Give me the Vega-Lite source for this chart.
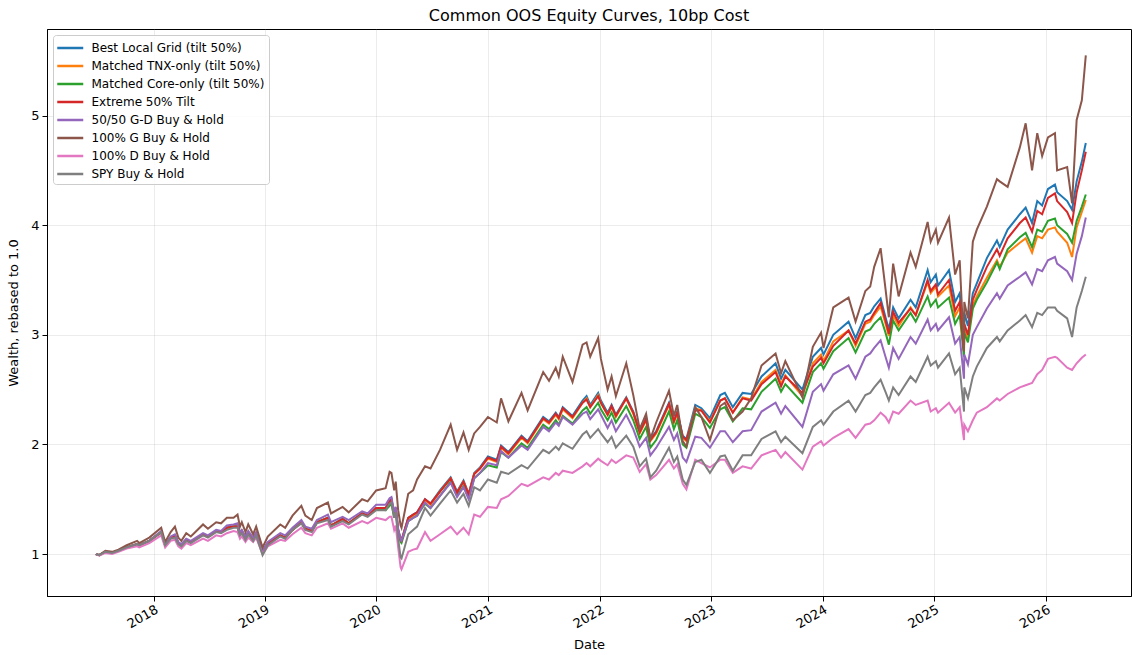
{
"$schema": "https://vega.github.io/schema/vega-lite/v6.json",
"width": 1084, "height": 567,
"autosize": "none",
"padding": {"left": 47, "top": 29, "right": 1, "bottom": 59},
"background": "white",
"title": {"text": "Common OOS Equity Curves, 10bp Cost", "fontSize": 16, "font": "DejaVu Sans", "fontWeight": "normal", "offset": 5, "color": "#000"},
"config": {"view": {"stroke": "#000", "strokeWidth": 1}, "font": "DejaVu Sans"},
"data": {"values": [
{"d":"2017-06-26","B":1.00,"T":1.00,"C":1.00,"E":1.00,"P":1.00,"G":1.00,"D":1.00,"S":1.00},
{"d":"2017-07-07","B":0.99,"T":0.99,"C":0.99,"E":0.99,"P":0.99,"G":0.99,"D":0.985,"S":0.99},
{"d":"2017-07-27","B":1.02,"T":1.02,"C":1.02,"E":1.02,"P":1.02,"G":1.03,"D":1.01,"S":1.02},
{"d":"2017-08-18","B":1.01,"T":1.01,"C":1.01,"E":1.01,"P":1.01,"G":1.02,"D":1.00,"S":1.01},
{"d":"2017-09-08","B":1.03,"T":1.03,"C":1.03,"E":1.03,"P":1.03,"G":1.04,"D":1.02,"S":1.03},
{"d":"2017-10-05","B":1.06,"T":1.06,"C":1.06,"E":1.06,"P":1.06,"G":1.08,"D":1.05,"S":1.06},
{"d":"2017-11-08","B":1.09,"T":1.09,"C":1.09,"E":1.09,"P":1.09,"G":1.12,"D":1.07,"S":1.09},
{"d":"2017-11-15","B":1.08,"T":1.08,"C":1.08,"E":1.08,"P":1.08,"G":1.10,"D":1.06,"S":1.08},
{"d":"2017-12-18","B":1.12,"T":1.12,"C":1.12,"E":1.12,"P":1.12,"G":1.15,"D":1.10,"S":1.12},
{"d":"2018-01-26","B":1.20,"T":1.20,"C":1.20,"E":1.20,"P":1.21,"G":1.24,"D":1.17,"S":1.20},
{"d":"2018-02-08","B":1.08,"T":1.08,"C":1.08,"E":1.08,"P":1.09,"G":1.11,"D":1.06,"S":1.08},
{"d":"2018-02-26","B":1.15,"T":1.15,"C":1.15,"E":1.15,"P":1.16,"G":1.20,"D":1.12,"S":1.14},
{"d":"2018-03-12","B":1.17,"T":1.17,"C":1.17,"E":1.17,"P":1.18,"G":1.25,"D":1.13,"S":1.15},
{"d":"2018-03-23","B":1.10,"T":1.10,"C":1.10,"E":1.10,"P":1.11,"G":1.15,"D":1.07,"S":1.09},
{"d":"2018-04-02","B":1.08,"T":1.08,"C":1.08,"E":1.08,"P":1.09,"G":1.12,"D":1.05,"S":1.07},
{"d":"2018-04-18","B":1.13,"T":1.13,"C":1.13,"E":1.13,"P":1.14,"G":1.19,"D":1.10,"S":1.12},
{"d":"2018-05-03","B":1.11,"T":1.11,"C":1.11,"E":1.11,"P":1.12,"G":1.16,"D":1.08,"S":1.10},
{"d":"2018-06-12","B":1.18,"T":1.18,"C":1.18,"E":1.18,"P":1.19,"G":1.27,"D":1.14,"S":1.17},
{"d":"2018-06-28","B":1.16,"T":1.16,"C":1.16,"E":1.16,"P":1.17,"G":1.23,"D":1.12,"S":1.15},
{"d":"2018-07-25","B":1.21,"T":1.21,"C":1.21,"E":1.21,"P":1.22,"G":1.29,"D":1.17,"S":1.20},
{"d":"2018-08-10","B":1.20,"T":1.20,"C":1.20,"E":1.20,"P":1.21,"G":1.28,"D":1.16,"S":1.19},
{"d":"2018-08-29","B":1.24,"T":1.24,"C":1.24,"E":1.24,"P":1.26,"G":1.33,"D":1.19,"S":1.22},
{"d":"2018-09-20","B":1.25,"T":1.25,"C":1.25,"E":1.25,"P":1.27,"G":1.33,"D":1.21,"S":1.24},
{"d":"2018-10-03","B":1.25,"T":1.25,"C":1.25,"E":1.25,"P":1.28,"G":1.36,"D":1.20,"S":1.24},
{"d":"2018-10-11","B":1.18,"T":1.18,"C":1.18,"E":1.18,"P":1.20,"G":1.25,"D":1.14,"S":1.17},
{"d":"2018-10-17","B":1.21,"T":1.21,"C":1.21,"E":1.21,"P":1.22,"G":1.29,"D":1.16,"S":1.19},
{"d":"2018-10-29","B":1.14,"T":1.14,"C":1.14,"E":1.14,"P":1.16,"G":1.20,"D":1.11,"S":1.13},
{"d":"2018-11-07","B":1.19,"T":1.19,"C":1.19,"E":1.19,"P":1.21,"G":1.27,"D":1.15,"S":1.18},
{"d":"2018-11-23","B":1.13,"T":1.13,"C":1.13,"E":1.13,"P":1.15,"G":1.18,"D":1.11,"S":1.12},
{"d":"2018-12-03","B":1.18,"T":1.18,"C":1.18,"E":1.18,"P":1.20,"G":1.25,"D":1.15,"S":1.17},
{"d":"2018-12-24","B":1.02,"T":1.02,"C":1.02,"E":1.02,"P":1.03,"G":1.06,"D":1.00,"S":0.99},
{"d":"2019-01-10","B":1.10,"T":1.10,"C":1.10,"E":1.10,"P":1.11,"G":1.16,"D":1.07,"S":1.08},
{"d":"2019-02-20","B":1.17,"T":1.17,"C":1.17,"E":1.17,"P":1.19,"G":1.27,"D":1.13,"S":1.16},
{"d":"2019-03-08","B":1.15,"T":1.15,"C":1.15,"E":1.15,"P":1.17,"G":1.24,"D":1.12,"S":1.14},
{"d":"2019-04-01","B":1.22,"T":1.22,"C":1.22,"E":1.22,"P":1.24,"G":1.35,"D":1.18,"S":1.22},
{"d":"2019-04-30","B":1.29,"T":1.29,"C":1.29,"E":1.29,"P":1.31,"G":1.44,"D":1.24,"S":1.28},
{"d":"2019-05-13","B":1.23,"T":1.23,"C":1.23,"E":1.23,"P":1.25,"G":1.35,"D":1.19,"S":1.22},
{"d":"2019-06-03","B":1.21,"T":1.21,"C":1.21,"E":1.21,"P":1.23,"G":1.31,"D":1.17,"S":1.20},
{"d":"2019-06-20","B":1.29,"T":1.29,"C":1.29,"E":1.29,"P":1.31,"G":1.42,"D":1.24,"S":1.28},
{"d":"2019-07-26","B":1.33,"T":1.33,"C":1.33,"E":1.33,"P":1.36,"G":1.47,"D":1.28,"S":1.31},
{"d":"2019-08-05","B":1.26,"T":1.26,"C":1.26,"E":1.26,"P":1.29,"G":1.37,"D":1.23,"S":1.25},
{"d":"2019-09-12","B":1.32,"T":1.32,"C":1.32,"E":1.32,"P":1.34,"G":1.43,"D":1.28,"S":1.30},
{"d":"2019-10-02","B":1.28,"T":1.28,"C":1.28,"E":1.28,"P":1.31,"G":1.38,"D":1.24,"S":1.27},
{"d":"2019-11-15","B":1.37,"T":1.37,"C":1.37,"E":1.37,"P":1.39,"G":1.50,"D":1.30,"S":1.36},
{"d":"2019-12-03","B":1.35,"T":1.35,"C":1.35,"E":1.35,"P":1.37,"G":1.48,"D":1.28,"S":1.34},
{"d":"2019-12-31","B":1.42,"T":1.42,"C":1.41,"E":1.42,"P":1.45,"G":1.58,"D":1.33,"S":1.40},
{"d":"2020-01-31","B":1.42,"T":1.42,"C":1.40,"E":1.42,"P":1.45,"G":1.60,"D":1.31,"S":1.40},
{"d":"2020-02-13","B":1.48,"T":1.47,"C":1.44,"E":1.48,"P":1.51,"G":1.75,"D":1.34,"S":1.46},
{"d":"2020-02-19","B":1.50,"T":1.49,"C":1.46,"E":1.50,"P":1.52,"G":1.74,"D":1.34,"S":1.47},
{"d":"2020-02-28","B":1.36,"T":1.35,"C":1.33,"E":1.36,"P":1.38,"G":1.58,"D":1.22,"S":1.33},
{"d":"2020-03-04","B":1.42,"T":1.41,"C":1.39,"E":1.42,"P":1.43,"G":1.66,"D":1.26,"S":1.38},
{"d":"2020-03-12","B":1.22,"T":1.21,"C":1.19,"E":1.22,"P":1.23,"G":1.40,"D":1.06,"S":1.14},
{"d":"2020-03-20","B":1.14,"T":1.13,"C":1.11,"E":1.13,"P":1.13,"G":1.26,"D":0.88,"S":0.97},
{"d":"2020-03-23","B":1.13,"T":1.12,"C":1.10,"E":1.12,"P":1.12,"G":1.24,"D":0.86,"S":0.96},
{"d":"2020-04-14","B":1.33,"T":1.32,"C":1.30,"E":1.33,"P":1.30,"G":1.55,"D":1.02,"S":1.18},
{"d":"2020-04-30","B":1.36,"T":1.35,"C":1.33,"E":1.36,"P":1.33,"G":1.58,"D":1.04,"S":1.22},
{"d":"2020-05-13","B":1.38,"T":1.37,"C":1.35,"E":1.38,"P":1.35,"G":1.68,"D":1.05,"S":1.25},
{"d":"2020-06-08","B":1.50,"T":1.49,"C":1.46,"E":1.50,"P":1.47,"G":1.80,"D":1.20,"S":1.42},
{"d":"2020-06-26","B":1.46,"T":1.45,"C":1.42,"E":1.46,"P":1.42,"G":1.78,"D":1.12,"S":1.35},
{"d":"2020-07-27","B":1.58,"T":1.57,"C":1.53,"E":1.57,"P":1.53,"G":1.95,"D":1.18,"S":1.46},
{"d":"2020-08-31","B":1.70,"T":1.69,"C":1.66,"E":1.69,"P":1.65,"G":2.18,"D":1.25,"S":1.58},
{"d":"2020-09-21","B":1.57,"T":1.56,"C":1.53,"E":1.56,"P":1.52,"G":1.95,"D":1.18,"S":1.47},
{"d":"2020-10-12","B":1.67,"T":1.66,"C":1.62,"E":1.66,"P":1.61,"G":2.11,"D":1.24,"S":1.55},
{"d":"2020-10-29","B":1.55,"T":1.54,"C":1.51,"E":1.54,"P":1.50,"G":1.95,"D":1.18,"S":1.44},
{"d":"2020-11-16","B":1.74,"T":1.73,"C":1.69,"E":1.73,"P":1.69,"G":2.10,"D":1.36,"S":1.61},
{"d":"2020-12-05","B":1.79,"T":1.78,"C":1.74,"E":1.78,"P":1.74,"G":2.16,"D":1.34,"S":1.58},
{"d":"2020-12-31","B":1.89,"T":1.87,"C":1.81,"E":1.88,"P":1.83,"G":2.25,"D":1.43,"S":1.68},
{"d":"2021-01-29","B":1.86,"T":1.84,"C":1.79,"E":1.85,"P":1.81,"G":2.20,"D":1.42,"S":1.65},
{"d":"2021-02-12","B":1.99,"T":1.97,"C":1.93,"E":1.98,"P":1.94,"G":2.42,"D":1.50,"S":1.75},
{"d":"2021-03-08","B":1.93,"T":1.91,"C":1.88,"E":1.92,"P":1.88,"G":2.21,"D":1.53,"S":1.73},
{"d":"2021-04-20","B":2.08,"T":2.06,"C":2.01,"E":2.07,"P":1.99,"G":2.47,"D":1.64,"S":1.81},
{"d":"2021-05-10","B":2.03,"T":2.01,"C":1.97,"E":2.02,"P":1.95,"G":2.31,"D":1.62,"S":1.78},
{"d":"2021-06-30","B":2.25,"T":2.23,"C":2.18,"E":2.24,"P":2.16,"G":2.66,"D":1.70,"S":1.95},
{"d":"2021-07-19","B":2.21,"T":2.19,"C":2.14,"E":2.20,"P":2.12,"G":2.58,"D":1.68,"S":1.92},
{"d":"2021-08-10","B":2.29,"T":2.27,"C":2.22,"E":2.28,"P":2.20,"G":2.70,"D":1.74,"S":1.98},
{"d":"2021-08-20","B":2.25,"T":2.23,"C":2.18,"E":2.24,"P":2.17,"G":2.62,"D":1.72,"S":1.95},
{"d":"2021-09-02","B":2.34,"T":2.32,"C":2.26,"E":2.33,"P":2.25,"G":2.80,"D":1.76,"S":2.01},
{"d":"2021-10-04","B":2.26,"T":2.24,"C":2.19,"E":2.25,"P":2.18,"G":2.57,"D":1.74,"S":1.96},
{"d":"2021-11-06","B":2.40,"T":2.38,"C":2.31,"E":2.38,"P":2.28,"G":2.91,"D":1.80,"S":2.09},
{"d":"2021-11-19","B":2.44,"T":2.42,"C":2.34,"E":2.41,"P":2.30,"G":2.93,"D":1.83,"S":2.12},
{"d":"2021-12-01","B":2.36,"T":2.34,"C":2.28,"E":2.34,"P":2.23,"G":2.80,"D":1.80,"S":2.06},
{"d":"2021-12-27","B":2.47,"T":2.45,"C":2.38,"E":2.44,"P":2.32,"G":2.97,"D":1.87,"S":2.14},
{"d":"2022-01-05","B":2.40,"T":2.38,"C":2.32,"E":2.38,"P":2.27,"G":2.78,"D":1.85,"S":2.10},
{"d":"2022-01-27","B":2.29,"T":2.27,"C":2.22,"E":2.27,"P":2.15,"G":2.50,"D":1.81,"S":2.02},
{"d":"2022-02-09","B":2.36,"T":2.34,"C":2.29,"E":2.35,"P":2.22,"G":2.62,"D":1.86,"S":2.07},
{"d":"2022-02-23","B":2.27,"T":2.25,"C":2.20,"E":2.26,"P":2.12,"G":2.44,"D":1.83,"S":1.97},
{"d":"2022-03-29","B":2.43,"T":2.42,"C":2.35,"E":2.42,"P":2.27,"G":2.74,"D":1.90,"S":2.08},
{"d":"2022-04-21","B":2.30,"T":2.28,"C":2.22,"E":2.29,"P":2.14,"G":2.45,"D":1.88,"S":1.98},
{"d":"2022-05-12","B":2.12,"T":2.10,"C":2.05,"E":2.11,"P":1.98,"G":2.14,"D":1.75,"S":1.80},
{"d":"2022-06-02","B":2.24,"T":2.22,"C":2.16,"E":2.23,"P":2.06,"G":2.28,"D":1.82,"S":1.87},
{"d":"2022-06-16","B":2.05,"T":2.03,"C":1.97,"E":2.04,"P":1.90,"G":2.05,"D":1.68,"S":1.70},
{"d":"2022-07-05","B":2.12,"T":2.10,"C":2.04,"E":2.11,"P":1.97,"G":2.20,"D":1.72,"S":1.76},
{"d":"2022-08-16","B":2.38,"T":2.36,"C":2.30,"E":2.37,"P":2.16,"G":2.49,"D":1.86,"S":1.97},
{"d":"2022-09-01","B":2.22,"T":2.20,"C":2.14,"E":2.21,"P":2.04,"G":2.26,"D":1.78,"S":1.84},
{"d":"2022-09-12","B":2.30,"T":2.28,"C":2.22,"E":2.29,"P":2.10,"G":2.36,"D":1.82,"S":1.89},
{"d":"2022-09-30","B":2.08,"T":2.06,"C":2.00,"E":2.07,"P":1.88,"G":2.03,"D":1.64,"S":1.68},
{"d":"2022-10-12","B":2.05,"T":2.03,"C":1.97,"E":2.04,"P":1.84,"G":1.98,"D":1.59,"S":1.63},
{"d":"2022-11-10","B":2.36,"T":2.33,"C":2.28,"E":2.31,"P":2.07,"G":2.34,"D":1.86,"S":1.84},
{"d":"2022-11-30","B":2.33,"T":2.31,"C":2.25,"E":2.31,"P":2.06,"G":2.25,"D":1.83,"S":1.86},
{"d":"2022-12-28","B":2.24,"T":2.21,"C":2.15,"E":2.20,"P":1.97,"G":2.04,"D":1.79,"S":1.74},
{"d":"2023-01-31","B":2.45,"T":2.40,"C":2.32,"E":2.40,"P":2.12,"G":2.35,"D":1.86,"S":1.89},
{"d":"2023-02-15","B":2.47,"T":2.42,"C":2.34,"E":2.42,"P":2.12,"G":2.38,"D":1.86,"S":1.90},
{"d":"2023-03-13","B":2.34,"T":2.29,"C":2.21,"E":2.29,"P":2.02,"G":2.22,"D":1.74,"S":1.76},
{"d":"2023-04-14","B":2.47,"T":2.43,"C":2.33,"E":2.42,"P":2.12,"G":2.30,"D":1.80,"S":1.90},
{"d":"2023-05-12","B":2.46,"T":2.41,"C":2.32,"E":2.40,"P":2.13,"G":2.42,"D":1.78,"S":1.90},
{"d":"2023-06-15","B":2.62,"T":2.57,"C":2.48,"E":2.55,"P":2.30,"G":2.72,"D":1.90,"S":2.05},
{"d":"2023-07-31","B":2.74,"T":2.68,"C":2.60,"E":2.66,"P":2.38,"G":2.83,"D":1.95,"S":2.12},
{"d":"2023-08-18","B":2.60,"T":2.55,"C":2.48,"E":2.53,"P":2.28,"G":2.65,"D":1.88,"S":2.02},
{"d":"2023-09-01","B":2.68,"T":2.63,"C":2.55,"E":2.62,"P":2.35,"G":2.76,"D":1.93,"S":2.07},
{"d":"2023-10-27","B":2.50,"T":2.44,"C":2.38,"E":2.47,"P":2.16,"G":2.43,"D":1.77,"S":1.92},
{"d":"2023-11-30","B":2.80,"T":2.74,"C":2.66,"E":2.71,"P":2.48,"G":2.89,"D":1.98,"S":2.16},
{"d":"2023-12-27","B":2.88,"T":2.82,"C":2.74,"E":2.79,"P":2.55,"G":3.02,"D":2.03,"S":2.22},
{"d":"2024-01-04","B":2.82,"T":2.76,"C":2.69,"E":2.74,"P":2.49,"G":2.88,"D":1.99,"S":2.18},
{"d":"2024-02-05","B":3.00,"T":2.94,"C":2.85,"E":2.90,"P":2.64,"G":3.25,"D":2.06,"S":2.30},
{"d":"2024-03-26","B":3.12,"T":3.04,"C":2.97,"E":3.04,"P":2.72,"G":3.34,"D":2.14,"S":2.40},
{"d":"2024-04-18","B":2.97,"T":2.90,"C":2.84,"E":2.92,"P":2.60,"G":3.12,"D":2.06,"S":2.30},
{"d":"2024-05-20","B":3.18,"T":3.10,"C":3.03,"E":3.12,"P":2.80,"G":3.40,"D":2.18,"S":2.45},
{"d":"2024-06-05","B":3.20,"T":3.12,"C":3.05,"E":3.14,"P":2.83,"G":3.44,"D":2.19,"S":2.47},
{"d":"2024-06-18","B":3.26,"T":3.18,"C":3.10,"E":3.20,"P":2.88,"G":3.62,"D":2.22,"S":2.52},
{"d":"2024-07-09","B":3.33,"T":3.26,"C":3.16,"E":3.29,"P":2.95,"G":3.79,"D":2.29,"S":2.59},
{"d":"2024-07-25","B":3.16,"T":3.10,"C":3.02,"E":3.13,"P":2.80,"G":3.42,"D":2.25,"S":2.48},
{"d":"2024-08-05","B":3.05,"T":2.99,"C":2.91,"E":3.01,"P":2.70,"G":3.16,"D":2.20,"S":2.40},
{"d":"2024-08-19","B":3.25,"T":3.18,"C":3.13,"E":3.21,"P":2.88,"G":3.65,"D":2.30,"S":2.52},
{"d":"2024-09-06","B":3.15,"T":3.08,"C":3.04,"E":3.11,"P":2.78,"G":3.35,"D":2.28,"S":2.45},
{"d":"2024-10-15","B":3.32,"T":3.25,"C":3.20,"E":3.24,"P":2.98,"G":3.75,"D":2.40,"S":2.62},
{"d":"2024-11-01","B":3.25,"T":3.18,"C":3.12,"E":3.18,"P":2.92,"G":3.62,"D":2.36,"S":2.57},
{"d":"2024-12-10","B":3.59,"T":3.48,"C":3.35,"E":3.50,"P":3.14,"G":4.03,"D":2.40,"S":2.80},
{"d":"2024-12-20","B":3.48,"T":3.38,"C":3.26,"E":3.40,"P":3.04,"G":3.85,"D":2.30,"S":2.72},
{"d":"2025-01-06","B":3.55,"T":3.44,"C":3.32,"E":3.46,"P":3.10,"G":3.96,"D":2.33,"S":2.76},
{"d":"2025-01-13","B":3.45,"T":3.35,"C":3.25,"E":3.37,"P":3.04,"G":3.84,"D":2.29,"S":2.70},
{"d":"2025-02-18","B":3.59,"T":3.45,"C":3.34,"E":3.50,"P":3.16,"G":4.07,"D":2.38,"S":2.83},
{"d":"2025-03-10","B":3.30,"T":3.17,"C":3.10,"E":3.22,"P":2.92,"G":3.55,"D":2.29,"S":2.64},
{"d":"2025-03-25","B":3.38,"T":3.25,"C":3.18,"E":3.30,"P":2.98,"G":3.68,"D":2.34,"S":2.70},
{"d":"2025-04-08","B":2.95,"T":2.85,"C":2.80,"E":2.85,"P":2.60,"G":2.85,"D":2.04,"S":2.30},
{"d":"2025-04-09","B":3.20,"T":3.08,"C":3.02,"E":3.10,"P":2.82,"G":3.30,"D":2.18,"S":2.52},
{"d":"2025-04-21","B":3.08,"T":2.97,"C":2.93,"E":3.00,"P":2.73,"G":3.15,"D":2.12,"S":2.42},
{"d":"2025-05-07","B":3.38,"T":3.27,"C":3.24,"E":3.32,"P":3.00,"G":3.85,"D":2.22,"S":2.62},
{"d":"2025-05-20","B":3.47,"T":3.35,"C":3.32,"E":3.41,"P":3.07,"G":3.96,"D":2.29,"S":2.71},
{"d":"2025-06-22","B":3.70,"T":3.52,"C":3.48,"E":3.62,"P":3.24,"G":4.17,"D":2.34,"S":2.88},
{"d":"2025-07-25","B":3.86,"T":3.68,"C":3.66,"E":3.78,"P":3.38,"G":4.42,"D":2.42,"S":2.98},
{"d":"2025-08-03","B":3.80,"T":3.62,"C":3.60,"E":3.72,"P":3.33,"G":4.40,"D":2.40,"S":2.94},
{"d":"2025-08-29","B":3.96,"T":3.75,"C":3.78,"E":3.88,"P":3.45,"G":4.35,"D":2.46,"S":3.04},
{"d":"2025-10-08","B":4.10,"T":3.84,"C":3.89,"E":4.02,"P":3.53,"G":4.71,"D":2.52,"S":3.13},
{"d":"2025-10-27","B":4.16,"T":3.88,"C":3.93,"E":4.07,"P":3.57,"G":4.93,"D":2.54,"S":3.18},
{"d":"2025-11-17","B":4.02,"T":3.75,"C":3.80,"E":3.94,"P":3.46,"G":4.50,"D":2.56,"S":3.07},
{"d":"2025-12-04","B":4.22,"T":3.90,"C":3.96,"E":4.13,"P":3.60,"G":4.84,"D":2.64,"S":3.20},
{"d":"2025-12-20","B":4.18,"T":3.88,"C":3.94,"E":4.10,"P":3.58,"G":4.63,"D":2.68,"S":3.18},
{"d":"2026-01-08","B":4.33,"T":3.96,"C":4.04,"E":4.25,"P":3.68,"G":4.80,"D":2.78,"S":3.25},
{"d":"2026-01-31","B":4.37,"T":3.98,"C":4.06,"E":4.29,"P":3.71,"G":4.84,"D":2.80,"S":3.25},
{"d":"2026-02-07","B":4.30,"T":3.94,"C":4.00,"E":4.22,"P":3.65,"G":4.50,"D":2.79,"S":3.22},
{"d":"2026-03-12","B":4.22,"T":3.84,"C":3.92,"E":4.12,"P":3.58,"G":4.53,"D":2.70,"S":3.15},
{"d":"2026-03-28","B":4.14,"T":3.71,"C":3.84,"E":4.02,"P":3.50,"G":4.20,"D":2.68,"S":2.98},
{"d":"2026-04-12","B":4.40,"T":3.98,"C":4.04,"E":4.30,"P":3.74,"G":4.96,"D":2.74,"S":3.25},
{"d":"2026-04-29","B":4.58,"T":4.12,"C":4.17,"E":4.50,"P":3.90,"G":5.14,"D":2.79,"S":3.40},
{"d":"2026-05-12","B":4.75,"T":4.23,"C":4.28,"E":4.67,"P":4.07,"G":5.55,"D":2.82,"S":3.53}
]},
"transform": [{"fold": ["B","T","C","E","P","G","D","S"], "as": ["series","value"]}],
"mark": {"type": "line", "strokeWidth": 2, "clip": true},
"encoding": {
  "x": {"field": "d", "type": "temporal",
        "scale": {"type": "utc", "domain": ["2017-01-17", "2026-10-07"]},
        "axis": {"title": "Date", "titleFontSize": 13, "titleFontWeight": "normal", "titleColor": "#000", "titlePadding": 8,
                 "labelFontSize": 13, "labelColor": "#000", "labelAngle": -30, "labelAlign": "right", "labelBaseline": "top", "labelPadding": 2,
                 "tickColor": "#000", "tickSize": 5, "domainColor": "#000", "format": "%Y", "tickCount": "year",
                 "grid": true, "gridColor": "#b0b0b0", "gridOpacity": 0.3, "gridWidth": 0.8}},
  "y": {"field": "value", "type": "quantitative",
        "scale": {"domain": [0.617, 5.79], "nice": false, "zero": false},
        "axis": {"title": "Wealth, rebased to 1.0", "titleFontSize": 13, "titleFontWeight": "normal", "titleColor": "#000", "titlePadding": 10,
                 "labelFontSize": 13, "labelColor": "#000", "labelPadding": 3, "values": [1, 2, 3, 4, 5],
                 "tickColor": "#000", "tickSize": 5, "domainColor": "#000",
                 "grid": true, "gridColor": "#b0b0b0", "gridOpacity": 0.3, "gridWidth": 0.8}},
  "color": {"field": "series", "type": "nominal",
            "scale": {"domain": ["B","T","C","E","P","G","D","S"],
                      "range": ["#1f77b4","#ff7f0e","#2ca02c","#d62728","#9467bd","#8c564b","#e377c2","#7f7f7f"]},
            "legend": {"orient": "top-left", "offset": 6, "title": null,
                       "labelExpr": "{'B':'Best Local Grid (tilt 50%)','T':'Matched TNX-only (tilt 50%)','C':'Matched Core-only (tilt 50%)','E':'Extreme 50% Tilt','P':'50/50 G-D Buy & Hold','G':'100% G Buy & Hold','D':'100% D Buy & Hold','S':'SPY Buy & Hold'}[datum.value]",
                       "labelFontSize": 12, "labelColor": "#000", "labelLimit": 300, "labelOffset": 16.5,
                       "symbolType": "M-1.167,0H2.3", "symbolStrokeWidth": 2.5, "symbolSize": 225, "rowPadding": 3.0,
                       "fillColor": "rgba(255,255,255,0.85)", "strokeColor": "#cccccc", "cornerRadius": 3, "padding": 4}}
}
}
